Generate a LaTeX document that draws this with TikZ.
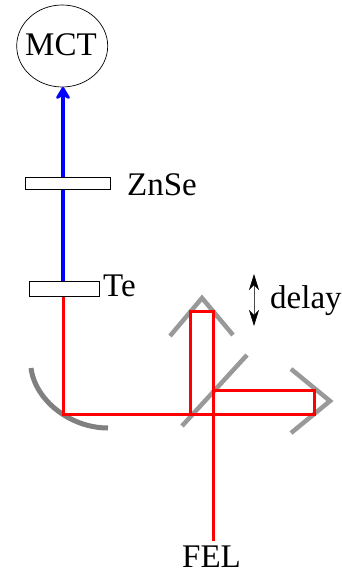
\documentclass[tikz,border=0pt]{standalone}
\usepackage{fontspec}
\setmainfont{Liberation Serif}
\usetikzlibrary{shapes.geometric,arrows.meta}
\tikzset{
  redbeam/.style={draw=red,line width=3pt,line join=miter},
  bluebeam/.style={draw=blue,line width=4pt},
  optic/.style={draw=black!40,line width=4.5pt,line join=miter},
  plate/.style={draw=black,fill=white,line width=0.7pt,inner sep=0pt},
  lbl/.style={inner sep=0pt,anchor=base west,font=\fontsize{33}{33}\selectfont}
}
\begin{document}
\begin{tikzpicture}[x=1pt,y=-1pt]
\useasboundingbox (0,0) rectangle (342,572);
% detector and labels
\node[ellipse,draw=black,line width=0.7pt,inner sep=0pt,minimum width=91pt,minimum height=82pt] (mct) at (62.2,46) {};
\node[lbl] (mctlbl) at (25,56) {MCT};
\node[lbl] (znselbl) at (127,195) {ZnSe};
\node[lbl] (telbl) at (103,296) {Te};
\node[lbl] (delaylbl) at (270,308) {delay};
\node[lbl] (fel) at (182,567) {FEL};
% beam corners
\coordinate (focus) at (63,414);
\coordinate (bsin) at (213,541);
\coordinate (topr) at (213,311);
\coordinate (topl) at (190,311);
\coordinate (botl) at (190,414);
\coordinate (rbot) at (314,414);
\coordinate (rtop) at (314,390);
\coordinate (rin) at (213,390);
\coordinate (teplate) at (63,289);
\coordinate (mcttip) at (63,87);
% grey optics
\draw[optic] (170,336) -- (202,298) -- (233,335);
\draw[optic] (291,369) -- (330,401) -- (291,433);
\draw[optic] (182,426) -- (247,355);
\draw[draw=black!50,line width=5pt] (31,368) .. controls (35,400) and (70,428) .. (108,428);
% beams
\draw[redbeam] (bsin) -- (topr) -- (topl) -- (botl);
\draw[redbeam] (teplate) -- (focus) -- (rbot) -- (rtop) -- (rin);
\draw[bluebeam,-{Stealth[length=15pt,width=18pt,inset=5pt,round]}] (teplate) -- (mcttip);
% plates
\node[plate,minimum width=84.5pt,minimum height=12pt] (znse) at (67.7,183) {};
\node[plate,minimum width=70pt,minimum height=15pt] (te) at (64,288.5) {};
% delay arrow
\coordinate (delayt) at (254,274);
\coordinate (delayb) at (254,326);
\draw[black!70,line width=0.7pt,{Stealth[black,length=16pt,width=10pt,inset=5pt]}-{Stealth[black,length=16pt,width=10pt,inset=5pt]}] (delayt) -- (delayb);
\end{tikzpicture}
\end{document}
